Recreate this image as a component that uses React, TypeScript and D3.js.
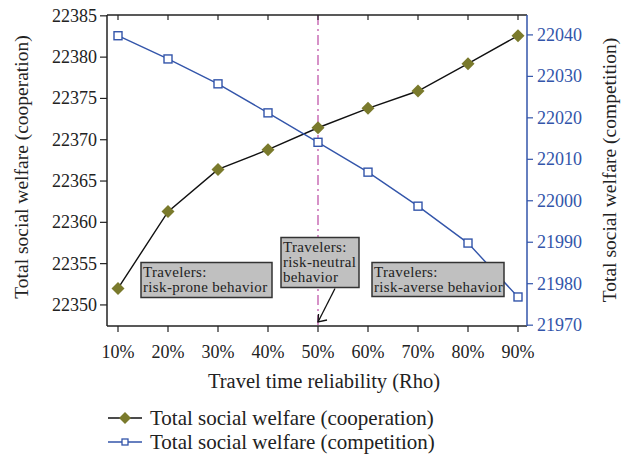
import React from "react";
import * as d3 from "d3";

const categories = ["10%", "20%", "30%", "40%", "50%", "60%", "70%", "80%", "90%"];
const rho = [10, 20, 30, 40, 50, 60, 70, 80, 90];
const cooperation = [22352.0, 22361.3, 22366.4, 22368.8, 22371.45, 22373.8, 22375.9, 22379.2, 22382.6];
const competition = [22039.8, 22034.2, 22028.2, 22021.2, 22014.1, 22006.9, 21998.7, 21989.8, 21976.8];
const leftTicks = [22350, 22355, 22360, 22365, 22370, 22375, 22380, 22385];
const rightTicks = [21970, 21980, 21990, 22000, 22010, 22020, 22030, 22040];
const seriesNames = ["Total social welfare (cooperation)", "Total social welfare (competition)"];

const W = 634, H = 456;
const L = 107, R = 527, T = 15, B = 326;
const FONT = "'Liberation Serif', 'Times New Roman', serif";
const OLIVE = "#7a7a2c";
const BLUE = "#3355aa";

export default function App() {
  const x = d3.scaleLinear().domain([7.8, 91.8]).range([L, R]);
  const yL = d3.scaleLinear().domain([22347.45, 22385.1]).range([B, T]);
  const yR = d3.scaleLinear().domain([21969.8, 22044.8]).range([B, T]);
  const lineL = d3.line<number>().x((_, i) => x(rho[i])).y((d) => yL(d));
  const lineR = d3.line<number>().x((_, i) => x(rho[i])).y((d) => yR(d));
  const diamond = (cx: number, cy: number, r = 6.5) =>
    `M${cx},${cy - r}L${cx + r},${cy}L${cx},${cy + r}L${cx - r},${cy}Z`;
  const ann = { fontSize: 15, fill: "#222", letterSpacing: 0.35 };

  return (
    <svg width={W} height={H} style={{ position: "absolute", left: 0, top: 0, background: "#fff" }} fontFamily={FONT}>
      {/* reference line */}
      <line x1={x(50)} x2={x(50)} y1={T} y2={B} stroke="#cc77bb" strokeWidth={1.6} strokeDasharray="10,4,2,4" />

      {/* frame */}
      <line x1={L} x2={R} y1={T} y2={T} stroke="#222" strokeWidth={1.5} />
      <line x1={L} x2={R} y1={B} y2={B} stroke="#222" strokeWidth={1.5} />
      <line x1={L} x2={L} y1={T} y2={B} stroke="#222" strokeWidth={1.5} />
      <line x1={R} x2={R} y1={T} y2={B} stroke={BLUE} strokeWidth={1.5} />

      {/* x ticks */}
      {rho.map((r, i) => (
        <g key={i}>
          <line x1={x(r)} x2={x(r)} y1={T} y2={T + 5} stroke="#222" strokeWidth={1.2} />
          <line x1={x(r)} x2={x(r)} y1={B} y2={B + 6} stroke="#222" strokeWidth={1.2} />
          <text x={x(r)} y={B + 32} textAnchor="middle" fontSize={18} fill="#222">{categories[i]}</text>
        </g>
      ))}

      {/* left ticks */}
      {leftTicks.map((v) => (
        <g key={v}>
          <line x1={L - 7} x2={L} y1={yL(v)} y2={yL(v)} stroke="#222" strokeWidth={1.2} />
          <text x={L - 10} y={yL(v) + 6} textAnchor="end" fontSize={18} fill="#222">{v}</text>
        </g>
      ))}

      {/* right ticks */}
      {rightTicks.map((v) => (
        <g key={v}>
          <line x1={R} x2={R + 6} y1={yR(v)} y2={yR(v)} stroke={BLUE} strokeWidth={1.2} />
          <text x={R + 10} y={yR(v) + 6} textAnchor="start" fontSize={18} fill={BLUE}>{v}</text>
        </g>
      ))}

      {/* axis titles */}
      <text transform={`translate(28,${167}) rotate(-90)`} textAnchor="middle" fontSize={19.5} fill="#222">
        Total social welfare (cooperation)
      </text>
      <text transform={`translate(616,${170}) rotate(-90)`} textAnchor="middle" fontSize={19.5} fill="#222">
        Total social welfare (competition)
      </text>
      <text x={324} y={388} textAnchor="middle" fontSize={20.5} fill="#222">
        Travel time reliability (Rho)
      </text>

      {/* series */}
      <path d={lineL(cooperation) || ""} fill="none" stroke="#111" strokeWidth={1.4} />
      <path d={lineR(competition) || ""} fill="none" stroke={BLUE} strokeWidth={1.4} />
      {cooperation.map((v, i) => (
        <path key={i} d={diamond(x(rho[i]), yL(v))} fill={OLIVE} />
      ))}
      {competition.map((v, i) => (
        <rect key={i} x={x(rho[i]) - 4} y={yR(v) - 4} width={8} height={8} fill="#fff" stroke={BLUE} strokeWidth={1.4} />
      ))}

      {/* annotations */}
      <g>
        <rect x={141} y={262.5} width={131} height={35} fill="#c0c0c0" stroke="#333" strokeWidth={1.5} />
        <text x={143} y={277} {...ann}>Travelers:</text>
        <text x={143} y={292} {...ann}>risk-prone behavior</text>

        <rect x={281} y={237.5} width={78} height={50} fill="#c0c0c0" stroke="#333" strokeWidth={1.5} />
        <text x={283} y={252} {...ann}>Travelers:</text>
        <text x={283} y={267} {...ann}>risk-neutral</text>
        <text x={283} y={282} {...ann}>behavior</text>

        <rect x={372} y={262.5} width={132} height={34} fill="#c0c0c0" stroke="#333" strokeWidth={1.5} />
        <text x={374} y={277} {...ann}>Travelers:</text>
        <text x={374} y={292} {...ann}>risk-averse behavior</text>

        <line x1={335} y1={288.5} x2={x(50)} y2={322} stroke="#111" strokeWidth={1.3} />
        <path d={`M${x(50) + 0.5},${314}L${x(50)},${322}L${x(50) + 9},${320}`} fill="none" stroke="#111" strokeWidth={1.3} />
      </g>

      {/* legend */}
      <g>
        <line x1={108} x2={142} y1={418} y2={418} stroke="#111" strokeWidth={1.5} />
        <path d={diamond(125, 418, 6)} fill={OLIVE} />
        <text x={150} y={425} fontSize={21} fill="#222">{seriesNames[0]}</text>
        <line x1={108} x2={142} y1={442} y2={442} stroke={BLUE} strokeWidth={1.5} />
        <rect x={122} y={439} width={6} height={6} fill="#fff" stroke={BLUE} strokeWidth={1.3} />
        <text x={150} y={449} fontSize={21} fill="#222">{seriesNames[1]}</text>
      </g>
    </svg>
  );
}
